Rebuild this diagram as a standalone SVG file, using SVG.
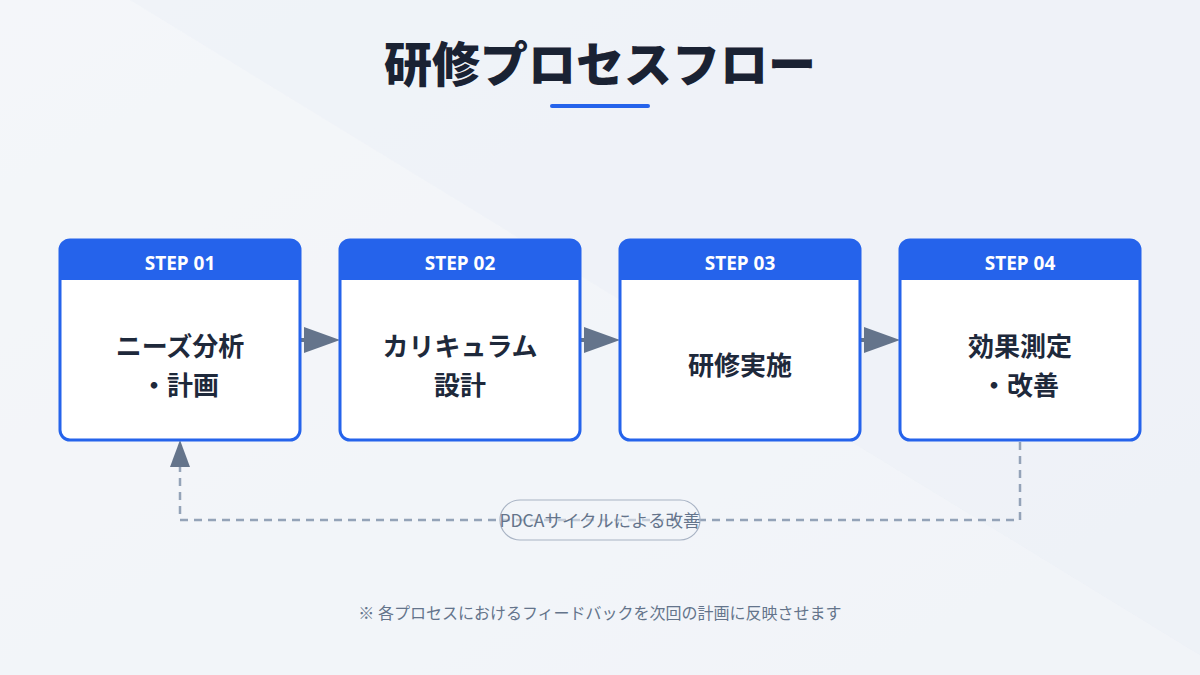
<svg xmlns="http://www.w3.org/2000/svg" width="1200" height="675" viewBox="0 0 1200 675">
<defs>
<linearGradient id="bg" x1="0" y1="0" x2="1" y2="1"><stop offset="0" stop-color="#f8fafc"/><stop offset="1" stop-color="#eaeef5"/></linearGradient>
<style>
.box{fill:#fff;stroke:#2563eb;stroke-width:3}
.hd{fill:#2563eb}
.ar{fill:#64748b}
.st{font-family:"Noto Sans","Noto Sans CJK JP",sans-serif;font-size:19px;font-weight:700;fill:#fff;text-anchor:middle}
.lb{font-family:"Noto Sans CJK JP",sans-serif;font-size:26px;font-weight:700;fill:#1e293b;text-anchor:middle}
</style>
</defs>
<rect width="1200" height="675" fill="url(#bg)"/>
<polygon points="0,0 130,0 1200,655 1200,675 0,675" fill="#f3f5f9" opacity="0.8"/>
<polygon points="0,0 1200,0 1200,655 130,0" fill="#eef2f7" opacity="0.9"/>
<text x="600" y="82" text-anchor="middle" font-family="Noto Sans CJK JP,sans-serif" font-size="48" font-weight="900" fill="#1a2233">研修プロセスフロー</text>
<rect x="550" y="104" width="100" height="4" rx="2" fill="#2563eb"/>
<g id="connectors">
<line x1="300" y1="340" x2="312" y2="340" stroke="#64748b" stroke-width="4"/>
<path class="ar" d="M304,327L340,340L304,353z"/>
<line x1="580" y1="340" x2="592" y2="340" stroke="#64748b" stroke-width="4"/>
<path class="ar" d="M584,327L620,340L584,353z"/>
<line x1="860" y1="340" x2="872" y2="340" stroke="#64748b" stroke-width="4"/>
<path class="ar" d="M864,327L900,340L864,353z"/>
<polyline points="1020,442 1020,520 180,520 180,460" fill="none" stroke="#94a3b8" stroke-width="2.5" stroke-dasharray="8,6"/>
<path class="ar" d="M170,467 L180,440 L190,467z"/>
<rect x="500" y="500" width="200" height="40" rx="20" fill="#f1f5f9" fill-opacity="0.5" stroke="#a8b3c4" stroke-width="1.2"/>
<text x="600" y="527" text-anchor="middle" font-family="Noto Sans CJK JP,sans-serif" font-size="17.5" fill="#64748b">PDCAサイクルによる改善</text>
</g>
<g id="step1"><rect class="box" x="60" y="240" width="240" height="200" rx="10"/><path class="hd" d="M60,280V250a10,10 0 0 1 10,-10H290a10,10 0 0 1 10,10V280z"/><text class="st" x="180" y="270">STEP 01</text><text class="lb" x="180" y="356">ニーズ分析</text><text class="lb" x="180" y="395">・計画</text></g>
<g id="step2"><rect class="box" x="340" y="240" width="240" height="200" rx="10"/><path class="hd" d="M340,280V250a10,10 0 0 1 10,-10H570a10,10 0 0 1 10,10V280z"/><text class="st" x="460" y="270">STEP 02</text><text class="lb" x="460" y="356">カリキュラム</text><text class="lb" x="460" y="395">設計</text></g>
<g id="step3"><rect class="box" x="620" y="240" width="240" height="200" rx="10"/><path class="hd" d="M620,280V250a10,10 0 0 1 10,-10H850a10,10 0 0 1 10,10V280z"/><text class="st" x="740" y="270">STEP 03</text><text class="lb" x="740" y="375">研修実施</text></g>
<g id="step4"><rect class="box" x="900" y="240" width="240" height="200" rx="10"/><path class="hd" d="M900,280V250a10,10 0 0 1 10,-10H1130a10,10 0 0 1 10,10V280z"/><text class="st" x="1020" y="270">STEP 04</text><text class="lb" x="1020" y="356">効果測定</text><text class="lb" x="1020" y="395">・改善</text></g>
<text x="600" y="619" text-anchor="middle" font-family="Noto Sans CJK JP,sans-serif" font-size="16" fill="#64748b">※ 各プロセスにおけるフィードバックを次回の計画に反映させます</text>
</svg>
